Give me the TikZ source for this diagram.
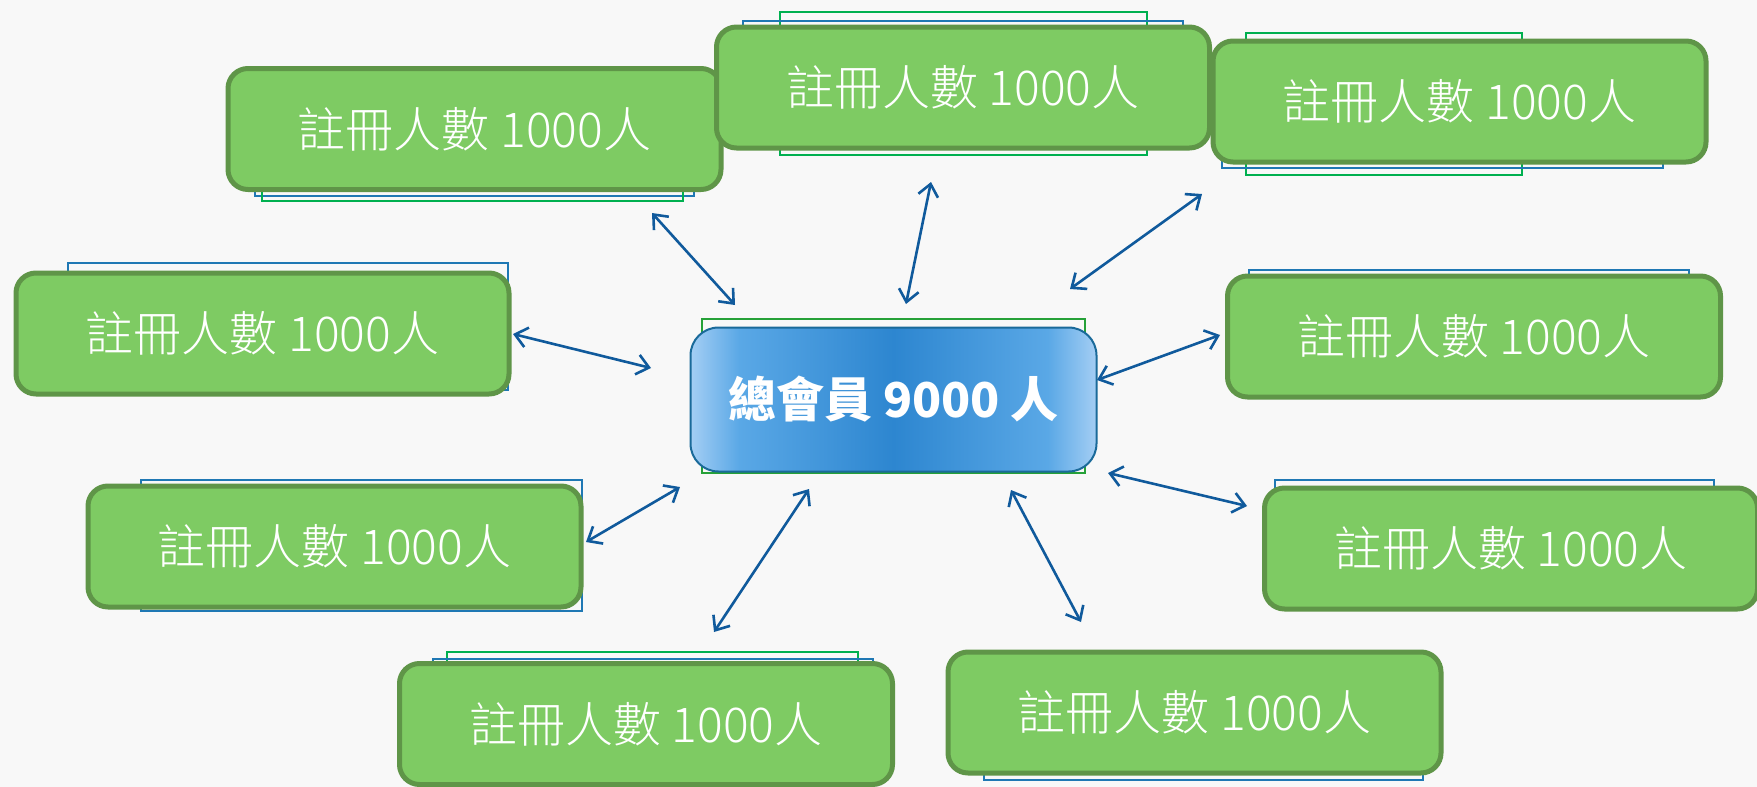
\documentclass[tikz,border=0pt]{standalone}
\usepackage{fontspec}
\newfontfamily\cjk{Noto Sans CJK TC}
\newfontfamily\cjklight{Noto Sans CJK TC Light}
\usetikzlibrary{arrows.meta}
\definecolor{boxfill}{HTML}{7ECB63}
\definecolor{boxline}{HTML}{5F9548}
\definecolor{linkblue}{HTML}{105A9C}
\definecolor{cenline}{HTML}{1A6A9A}
\definecolor{cenmid}{HTML}{2D86D0}
\definecolor{cenhalf}{HTML}{5AA8E6}
\definecolor{cenout}{HTML}{A4CEF4}
\definecolor{frameblue}{HTML}{1F78B4}
\definecolor{framegreen}{HTML}{00B050}
\definecolor{bgcol}{HTML}{F8F8F8}
\pgfdeclarehorizontalshading{censhade}{100bp}{color(0bp)=(cenout); color(25bp)=(cenout);
    color(31bp)=(cenhalf); color(50bp)=(cenmid); color(69bp)=(cenhalf);
    color(75bp)=(cenout); color(100bp)=(cenout)}

\begin{document}
\begin{tikzpicture}[x=0.5pt, y=-0.5pt, >={Straight Barb[length=6pt,width=10pt]}]
    \tikzset{
        regbox/.style={draw=boxline, line width=2.5pt, fill=boxfill, rounded corners=10pt,
            minimum width=246.5pt, minimum height=60.5pt, inner sep=0pt,
            text=white, font=\cjklight\fontsize{24}{28}\selectfont},
        totbox/.style={draw=cenline, line width=1pt, rounded corners=14pt,
            minimum width=203pt, minimum height=72pt, inner sep=0pt,
            shading=censhade,
            text=white, font=\cjk\bfseries\fontsize{24}{28}\selectfont},
        link/.style={<->, linkblue, line width=1.3pt},
        thinframe/.style={line width=0.6pt}
    }

    % Sfondo
    \fill[bgcol] (0,0) rectangle (1757,787);
    \useasboundingbox (0,0) rectangle (1757,787);

    % Cornici sottili dietro i riquadri
    \draw[thinframe, frameblue] (255,90) rectangle (694,196);
    \draw[thinframe, framegreen] (262,95) rectangle (683,201);
    \draw[thinframe, framegreen] (780,12) rectangle (1147,155);
    \draw[thinframe, frameblue] (743,21) rectangle (1183,140);
    \draw[thinframe, framegreen] (1246,33) rectangle (1522,175);
    \draw[thinframe, frameblue] (1222,50) rectangle (1663,168);
    \draw[thinframe, frameblue] (68,263) rectangle (508,390);
    \draw[thinframe, frameblue] (1249,270) rectangle (1689,395);
    \draw[thinframe, frameblue] (141,480) rectangle (582,611);
    \draw[thinframe, frameblue] (1275,480) rectangle (1714,600);
    \draw[thinframe, framegreen] (447,652) rectangle (858,800);
    \draw[thinframe, frameblue] (433,659) rectangle (873,800);
    \draw[thinframe, frameblue] (984,660) rectangle (1423,780);
    \draw[thinframe, framegreen!70!olive] (702,319) rectangle (1085,473);

    % Riquadri degli iscritti
    \node[regbox] (regA) at (474.5,129) {註冊人數 1000人};
    \node[regbox] (regB) at (963,87.5) {註冊人數 1000人};
    \node[regbox] (regC) at (1459.5,101.5) {註冊人數 1000人};
    \node[regbox] (regD) at (262.5,333.5) {註冊人數 1000人};
    \node[regbox] (regE) at (1474,336.5) {註冊人數 1000人};
    \node[regbox] (regF) at (334.5,546.5) {註冊人數 1000人};
    \node[regbox] (regG) at (1511,548.5) {註冊人數 1000人};
    \node[regbox] (regH) at (646,724) {註冊人數 1000人};
    \node[regbox] (regI) at (1194.5,712.5) {註冊人數 1000人};

    % Riquadro centrale
    \node[totbox] (tot) at (893.5,399.5) {總會員 9000 人};

    % Estremi delle frecce
    \coordinate (a1) at (652,213);  \coordinate (b1) at (735,305);
    \coordinate (a2) at (931,182);  \coordinate (b2) at (906,304);
    \coordinate (a3) at (1202,194); \coordinate (b3) at (1070,289);
    \coordinate (a4) at (513,334);  \coordinate (b4) at (651,368);
    \coordinate (a5) at (1220,335); \coordinate (b5) at (1097,380);
    \coordinate (a6) at (586,542);  \coordinate (b6) at (680,487);
    \coordinate (a7) at (1247,506); \coordinate (b7) at (1108,473);
    \coordinate (a8) at (714,632);  \coordinate (b8) at (809,489);
    \coordinate (a9) at (1081,622); \coordinate (b9) at (1011,490);

    % Frecce doppie
    \foreach \i in {1,...,9}
        \draw[link] (a\i) -- (b\i);

\end{tikzpicture}
\end{document}
